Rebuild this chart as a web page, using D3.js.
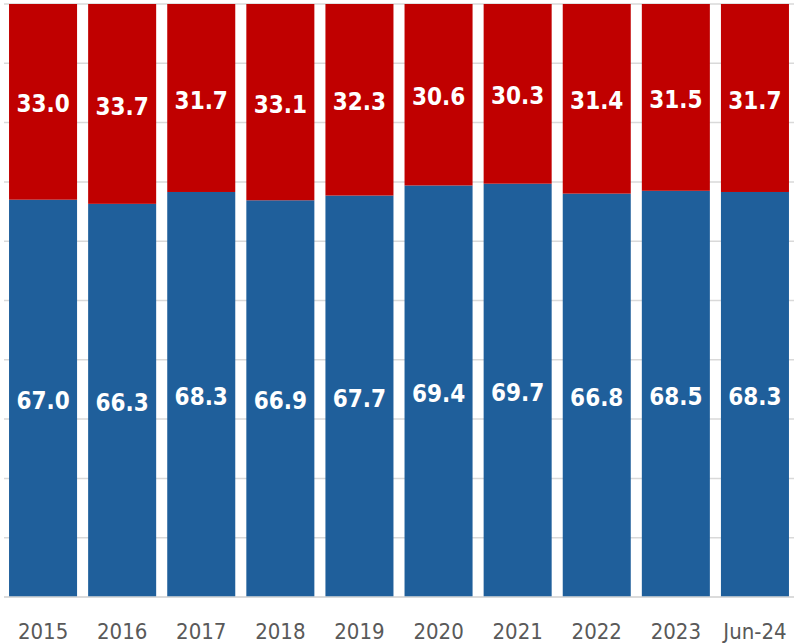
<!DOCTYPE html>
<html>
<head>
<meta charset="utf-8">
<script src="https://cdn.jsdelivr.net/npm/d3@7"></script>
<style>
  body { margin: 0; background: #fff; }
  svg { display: block; }
</style>
</head>
<body>
<svg id="chart" width="794" height="644"></svg>
<script>
// categories and series values
const categories = ["2015", "2016", "2017", "2018", "2019", "2020", "2021", "2022", "2023", "Jun-24"];
const bottomValues = [67.0, 66.3, 68.3, 66.9, 67.7, 69.4, 69.7, 66.8, 68.5, 68.3];
const topValues = [33.0, 33.7, 31.7, 33.1, 32.3, 30.6, 30.3, 31.4, 31.5, 31.7];
const gridTicks = [0, 0.1, 0.2, 0.3, 0.4, 0.5, 0.6, 0.7, 0.8, 0.9, 1];

const colors = { bottom: "#1F5F9B", top: "#C00000" };
const font = "'DejaVu Sans Condensed', 'DejaVu Sans', Verdana, sans-serif";

const svg = d3.select("#chart");
const plot = { left: 3.5, right: 794.5, top: 4, bottom: 597 };

//Build rows for the stack
const rows = categories.map((c, i) => ({ cat: c, bottom: bottomValues[i], top: topValues[i] }));
const series = d3.stack().keys(["bottom", "top"]).offset(d3.stackOffsetExpand)(rows);

const x = d3.scaleBand()
  .domain(categories)
  .range([plot.left, plot.right])
  .paddingInner(0.14)
  .paddingOuter(0.07);

const y = d3.scaleLinear().domain([0, 1]).range([plot.bottom, plot.top]);

//Gridlines
svg.append("g")
  .selectAll("line")
  .data(gridTicks)
  .join("line")
  .attr("x1", 4)
  .attr("x2", 794)
  .attr("y1", (d) => y(d))
  .attr("y2", (d) => y(d))
  .attr("stroke", "#D9D9D9")
  .attr("stroke-width", 1.5);

//Bars
const layer = svg.append("g")
  .selectAll("g")
  .data(series)
  .join("g")
  .attr("fill", (s) => colors[s.key]);

layer.selectAll("rect")
  .data((s) => s)
  .join("rect")
  .attr("x", (d) => x(d.data.cat))
  .attr("width", x.bandwidth())
  .attr("y", (d) => y(d[1]))
  .attr("height", (d) => y(d[0]) - y(d[1]));

//Value labels
layer.selectAll("text")
  .data((s) => s.map((d) => ({ d, key: s.key })))
  .join("text")
  .attr("x", (o) => x(o.d.data.cat) + x.bandwidth() / 2)
  .attr("y", (o) => (y(o.d[0]) + y(o.d[1])) / 2 + 2)
  .attr("dy", "0.36em")
  .attr("text-anchor", "middle")
  .attr("fill", "#fff")
  .attr("font-family", font)
  .attr("font-weight", "bold")
  .attr("font-size", 24)
  .text((o) => o.d.data[o.key].toFixed(1));

//Axis baseline
svg.append("line")
  .attr("x1", 4)
  .attr("x2", 794)
  .attr("y1", y(0))
  .attr("y2", y(0))
  .attr("stroke", "#D9D9D9")
  .attr("stroke-width", 1.5);

//Category labels
const axis = svg.append("g")
  .attr("transform", "translate(0," + y(0) + ")")
  .call(d3.axisBottom(x).tickSize(0).tickPadding(26));

axis.select(".domain").remove();
axis.selectAll("text")
  .attr("fill", "#595959")
  .attr("font-family", font)
  .attr("font-size", 22);
</script>
</body>
</html>
